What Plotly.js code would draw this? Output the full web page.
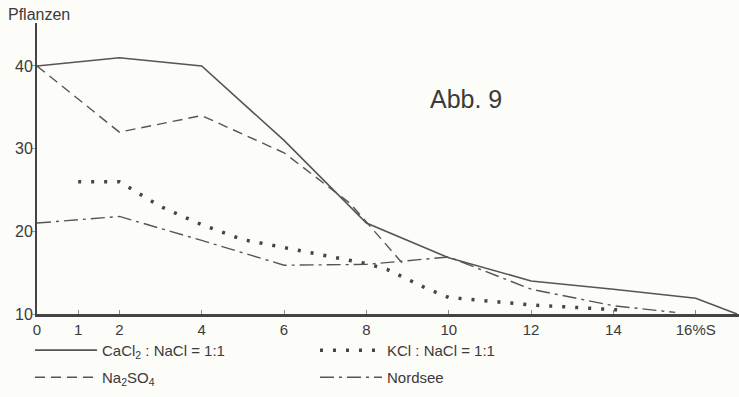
<!DOCTYPE html>
<html><head><meta charset="utf-8">
<script src="https://cdn.plot.ly/plotly-3.0.1.min.js"></script>
<style>html,body{margin:0;padding:0;background:#fcfcf9;}#chart{width:739px;height:397px;}</style>
</head><body><div id="chart"></div>
<script>
const cacl2X = [0, 2, 4, 6, 8, 10, 12, 14, 16, 17];
const cacl2Y = [40, 41, 40, 31, 21, 16.8, 14, 13, 11.9, 10];
const na2so4X = [0, 2, 4, 6, 7.6, 8.9];
const na2so4Y = [40, 32, 34, 29.5, 23.4, 16];
const kclX = [1, 2, 3, 4, 5, 6, 7, 8, 8.5, 9, 9.5, 10, 12, 14.1];
const kclY = [26, 26, 23, 20.8, 19, 18, 17, 16.1, 15.4, 14.2, 13, 12, 11.1, 10.5];
const nordX = [0, 2, 4, 6, 8, 10, 12, 14, 15.5];
const nordY = [21, 21.8, 18.9, 15.9, 16, 16.9, 13, 11, 10.2];
const tickVals = [0, 1, 2, 4, 6, 8, 10, 12, 14, 16];
const tickText = ['0', '1', '2', '4', '6', '8', '10', '12', '14', '16%S'];
const yTickVals = [10, 20, 30, 40];
const names = ['CaCl<sub>2</sub> : NaCl = 1:1', 'KCl : NaCl = 1:1', 'Na<sub>2</sub>SO<sub>4</sub>', 'Nordsee'];

const lc = '#555555';
const font = {family: 'Liberation Sans, Arial, sans-serif', color: '#3a3a3a', size: 14};
const traces = [
  {x: cacl2X, y: cacl2Y, name: names[0], mode: 'lines', line: {color: lc, width: 1.6}, legend: 'legend'},
  {x: kclX, y: kclY, name: names[1], mode: 'lines', line: {color: '#444', width: 3.5, dash: '3px,10px'}, legend: 'legend'},
  {x: na2so4X, y: na2so4Y, name: names[2], mode: 'lines', line: {color: lc, width: 1.4, dash: '10px,6px'}, legend: 'legend2'},
  {x: nordX, y: nordY, name: names[3], mode: 'lines', line: {color: lc, width: 1.4, dash: '14px,5px,3px,5px'}, legend: 'legend2'}
];
const legBase = {orientation: 'h', entrywidth: 208, entrywidthmode: 'pixels', itemwidth: 62, bgcolor: 'rgba(0,0,0,0)', font: {family: font.family, color: '#3a3a3a', size: 15}, xanchor: 'left', yanchor: 'middle', x: -0.01};
const layout = {
  width: 739, height: 397,
  margin: {l: 37, r: 0, t: 23, b: 83},
  paper_bgcolor: '#fcfcf9', plot_bgcolor: '#fcfcf9',
  font: font,
  showlegend: true,
  legend: Object.assign({}, legBase, {y: -0.125}),
  legend2: Object.assign({}, legBase, {y: -0.218}),
  xaxis: {range: [0, 17.05], tickvals: tickVals, ticktext: tickText, showgrid: false, zeroline: false,
          showline: true, linecolor: '#444', linewidth: 2.5, ticks: 'inside', ticklen: 4, tickcolor: '#888',
          tickfont: {family: font.family, size: 15, color: '#3a3a3a'}, fixedrange: true},
  yaxis: {range: [10, 45.2], tickvals: yTickVals, showgrid: false, zeroline: false,
          showline: true, linecolor: '#444', linewidth: 2, ticks: 'outside', ticklen: 3, tickcolor: '#999',
          ticklabelstandoff: -4,
          tickfont: {family: font.family, size: 16, color: '#3a3a3a'}},
  annotations: [
    {text: 'Pflanzen', xref: 'paper', yref: 'paper', x: -0.044, y: 1.028, xanchor: 'left', yanchor: 'middle', showarrow: false, font: {family: font.family, size: 16, color: '#3a3a3a'}},
    {text: 'Abb. 9', xref: 'paper', yref: 'paper', x: 0.557, y: 0.74, xanchor: 'left', yanchor: 'middle', showarrow: false, font: {family: font.family, size: 25, color: '#3a3a3a'}}
  ]
};
Plotly.newPlot('chart', traces, layout, {staticPlot: true, displayModeBar: false});
</script></body></html>
